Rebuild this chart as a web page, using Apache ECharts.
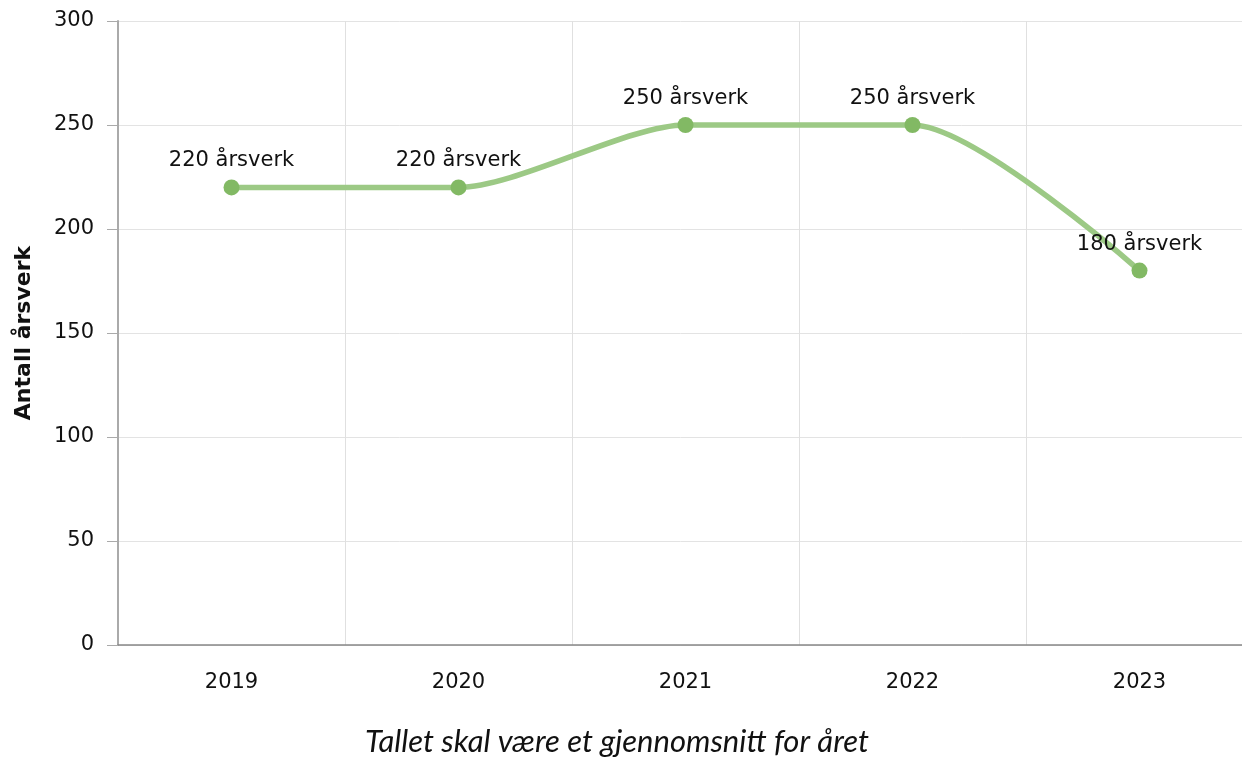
<!DOCTYPE html>
<html><head><meta charset="utf-8">
<script src="https://cdn.jsdelivr.net/npm/echarts@6/dist/echarts.min.js"></script>
<style>html,body{margin:0;padding:0;background:#fff}#c{width:1242px;height:758px}</style>
</head><body><div id="c"></div>
<script>
const years = ['2019', '2020', '2021', '2022', '2023'];
const aarsverk = [220, 220, 250, 250, 180];
const yTicks = { min: 0, max: 300, interval: 50 };
const yName = 'Antall årsverk';
const footnote = 'Tallet skal være et gjennomsnitt for året';

const FONT = '"DejaVu Sans", Verdana, sans-serif';
const chart = echarts.init(document.getElementById('c'), null, { renderer: 'canvas' });
chart.setOption({
  animation: false,
  backgroundColor: '#ffffff',
  title: {
    text: footnote,
    left: 360,
    top: 721,
    textStyle: { fontFamily: 'Lato, "Open Sans", sans-serif', fontStyle: 'italic', fontWeight: 'normal', fontSize: 31, color: '#111' }
  },
  grid: { left: 118, width: 1135, top: 21, height: 624, outerBoundsMode: 'none', containLabel: false },
  xAxis: {
    type: 'category',
    data: years,
    boundaryGap: true,
    axisLine: { lineStyle: { color: '#888', width: 1.5 } },
    axisTick: { alignWithLabel: true, length: 8, lineStyle: { color: '#aaa' } },
    axisLabel: { fontFamily: FONT, fontSize: 21, color: '#111', margin: 27 },
    splitLine: { show: true, lineStyle: { color: '#e0e0e0' } }
  },
  yAxis: {
    type: 'value',
    min: yTicks.min, max: yTicks.max, interval: yTicks.interval,
    name: yName,
    nameLocation: 'middle',
    nameGap: 83,
    nameTextStyle: { fontFamily: FONT, fontSize: 22, fontWeight: 'bold', color: '#111' },
    axisLine: { show: true, lineStyle: { color: '#aaa', width: 2 } },
    axisTick: { show: true, length: 11, lineStyle: { color: '#aaa' } },
    axisLabel: { fontFamily: FONT, fontSize: 21, color: '#111', margin: 24 },
    splitLine: { show: true, lineStyle: { color: '#e3e3e3' } }
  },
  series: [{
    type: 'line',
    data: aarsverk,
    smooth: 0.25,
    symbol: 'circle',
    symbolSize: 16,
    itemStyle: { color: '#82b964' },
    lineStyle: { color: '#9cc985', width: 5.5 },
    label: {
      show: true,
      position: 'top',
      distance: 8,
      formatter: p => p.value + ' årsverk',
      fontFamily: FONT,
      fontSize: 21,
      color: '#111'
    }
  }]
});
</script>
</body></html>
